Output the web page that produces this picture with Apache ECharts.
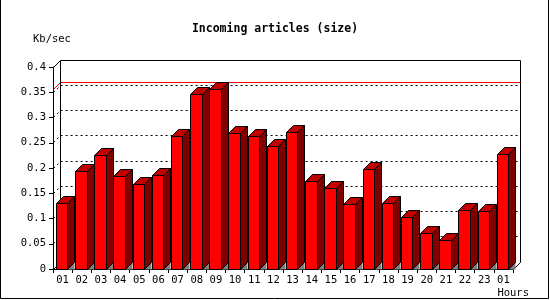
<!DOCTYPE html>
<html>
<head>
<meta charset="utf-8">
<script src="https://cdn.jsdelivr.net/npm/echarts@6/dist/echarts.min.js"></script>
<style>
html,body{margin:0;padding:0;background:#fff;}
#chart{width:550px;height:300px;}
</style>
</head>
<body>
<div id="chart"></div>
<script>
// ---- data ----
const hours = ['01','02','03','04','05','06','07','08','09','10','11','12','13','14','15','16','17','18','19','20','21','22','23','01'];
const sizes = [0.130, 0.193, 0.224, 0.184, 0.168, 0.186, 0.263, 0.345, 0.356, 0.269, 0.263, 0.242, 0.271, 0.174, 0.160, 0.127, 0.198, 0.130, 0.102, 0.071, 0.056, 0.116, 0.114, 0.227];
const yTicks = [0, 0.05, 0.1, 0.15, 0.2, 0.25, 0.3, 0.35, 0.4];
const gridLevels = [0.05, 0.1, 0.15, 0.2, 0.25, 0.3, 0.35];
const titleText = 'Incoming articles (size)';
const yUnit = 'Kb/sec';
const xUnit = 'Hours';

const maxValue = Math.max.apply(null, sizes);
const D = 7; // 3D depth in px
const MONO = '"DejaVu Sans Mono", "Liberation Mono", monospace';

const chart = echarts.init(document.getElementById('chart'), null, {renderer: 'canvas'});

function px(v) { return Math.floor(v) + 0.5; }

function renderWall(params, api) {
  const cs = params.coordSys;
  const L = cs.x, R = cs.x + cs.width;
  const yf = v => px(api.coord([0, v])[1]);
  const yTop = yf(yTicks[yTicks.length - 1]);
  const y0 = yf(0);
  const l = px(L), r = px(R);
  const children = [];
  const black = {stroke: '#000', lineWidth: 1, fill: null};
  const dotted = {stroke: '#000', lineWidth: 1, fill: null, lineDash: [2, 3]};
  gridLevels.forEach(v => {
    const y = yf(v);
    children.push({type: 'polyline', shape: {points: [[l, y], [l + D, y - D], [r + D, y - D]]}, style: dotted});
  });
  // max line (red)
  const ym = yf(maxValue);
  children.push({type: 'polyline', shape: {points: [[l, ym], [l + D, ym - D], [r + D, ym - D]]}, style: {stroke: '#ff0000', lineWidth: 1, fill: null}});
  // frame of back wall
  children.push({type: 'polyline', shape: {points: [[l, yTop], [l + D, yTop - D], [r + D, yTop - D], [r + D, y0 - D], [r, y0]]}, style: black});
  children.push({type: 'polyline', shape: {points: [[l + D, yTop - D], [l + D, y0 - D]]}, style: black});
  children.push({type: 'polyline', shape: {points: [[l, y0], [l + D, y0 - D]]}, style: black});
  return {type: 'group', children: children};
}

function renderBar(params, api) {
  const i = api.value(0), v = api.value(1);
  const top = api.coord([i, v]);
  const bot = api.coord([i, 0]);
  const c = top[0];
  const x0 = px(c - 6.2), x1 = px(c + 5.4);
  const yT = px(top[1]), y0 = px(bot[1]);
  const st = fill => ({fill: fill, stroke: '#000', lineWidth: 1});
  return {
    type: 'group',
    children: [
      {type: 'polygon', shape: {points: [[x1, y0], [x1 + D, y0 - D], [x1 + D, y0]]}, style: {fill: '#808080', stroke: null}},
      {type: 'polygon', shape: {points: [[x1, yT], [x1 + D, yT - D], [x1 + D, y0 - D], [x1, y0]]}, style: st('#800000')},
      {type: 'polygon', shape: {points: [[x0, yT], [x0 + D, yT - D], [x1 + D, yT - D], [x1, yT]]}, style: st('#c00000')},
      {type: 'rect', shape: {x: x0, y: yT, width: x1 - x0, height: y0 - yT}, style: st('#ff0000')}
    ]
  };
}

const option = {
  animation: false,
  backgroundColor: '#ffffff',
  title: [
    {text: titleText, left: 'center', top: 18, textStyle: {fontFamily: MONO, fontSize: 11.5, fontWeight: 'bold', color: '#000'}},
    {text: yUnit, left: 28, top: 29, textStyle: {fontFamily: MONO, fontSize: 10.5, fontWeight: 'normal', color: '#000'}},
    {text: xUnit, right: 16, top: 283, textStyle: {fontFamily: MONO, fontSize: 10.5, fontWeight: 'normal', color: '#000'}}
  ],
  grid: {left: 53, right: 37, top: 67, bottom: 31, containLabel: false},
  xAxis: {
    type: 'category',
    data: hours,
    boundaryGap: true,
    axisLine: {lineStyle: {color: '#000', width: 1}},
    axisTick: {show: true, length: 4, lineStyle: {color: '#000'}},
    axisLabel: {fontFamily: MONO, fontSize: 10.5, color: '#000', margin: 6, interval: 0},
    splitLine: {show: false}
  },
  yAxis: {
    type: 'value',
    min: 0, max: 0.4, interval: 0.05,
    axisLine: {show: true, lineStyle: {color: '#000', width: 1}},
    axisTick: {show: true, length: 4, lineStyle: {color: '#000'}},
    axisLabel: {fontFamily: MONO, fontSize: 10.5, color: '#000', margin: 7},
    splitLine: {show: false}
  },
  graphic: [
    {type: 'polyline', shape: {points: [[0.5, 0], [0.5, 298.5], [548.5, 298.5], [548.5, 0]]}, style: {stroke: '#000', lineWidth: 1, fill: null}, silent: true}
  ],
  series: [
    {type: 'custom', z: 1, renderItem: renderWall, data: [[0, 0]], silent: true, clip: false},
    {type: 'custom', z: 2, renderItem: renderBar, data: sizes.map((v, i) => [i, v]), silent: true, clip: false}
  ]
};
chart.setOption(option);
</script>
</body>
</html>
